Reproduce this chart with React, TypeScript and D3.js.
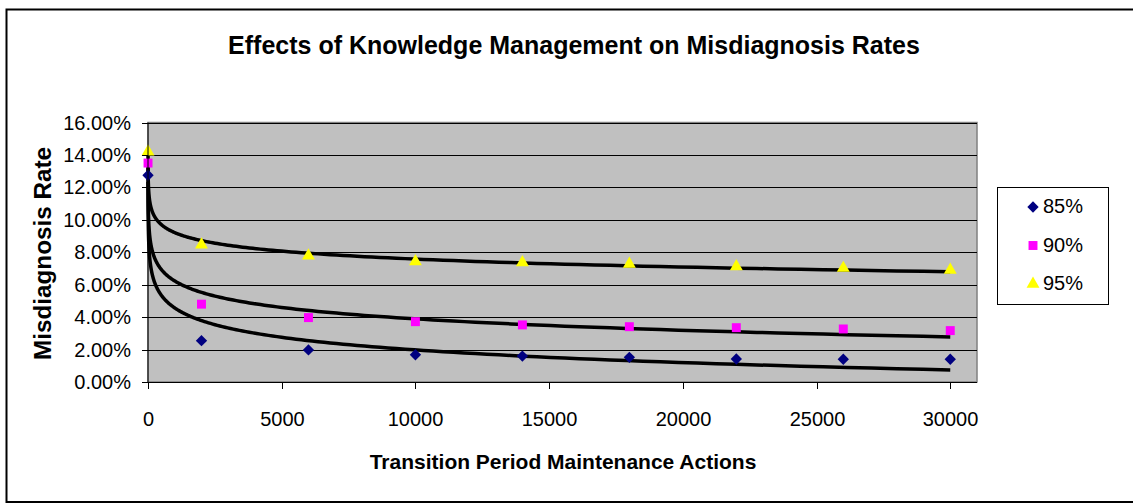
import React from 'react'
import * as d3 from 'd3'

// maintenance actions (first point sits at the origin of the axis)
const actions = [1, 2000, 6000, 10000, 14000, 18000, 22000, 26000, 30000]
const rate85 = [0.1275, 0.0255, 0.0198, 0.0168, 0.0160, 0.0152, 0.0142, 0.0140, 0.0140]
const rate90 = [0.1350, 0.0480, 0.0397, 0.0372, 0.0352, 0.0341, 0.0335, 0.0327, 0.0317]
const rate95 = [0.1420, 0.0846, 0.0778, 0.0743, 0.0737, 0.0728, 0.0712, 0.0702, 0.0691]
const seriesNames = ['85%', '90%', '95%']
const xTicks = [0, 5000, 10000, 15000, 20000, 25000, 30000]
const yTicks = [0, 0.02, 0.04, 0.06, 0.08, 0.1, 0.12, 0.14, 0.16]

const font = '"Liberation Sans", Arial, sans-serif'

// square turned 45deg, like excel's diamond marker
const diamond = (d3 as any).symbolDiamond2 || {
  draw(ctx: any, size: number) {
    const r = Math.sqrt(size) * 0.62
    ctx.moveTo(0, -r); ctx.lineTo(r, 0); ctx.lineTo(0, r); ctx.lineTo(-r, 0); ctx.closePath()
  },
}

// excel style logarithmic trendline: y = a + b ln(x)
const logFit = (xs: number[], ys: number[]) => {
  const lx = xs.map((v) => Math.log(v))
  const mx = d3.mean(lx)!
  const my = d3.mean(ys)!
  const sxy = d3.sum(lx, (v, i) => (v - mx) * (ys[i] - my))
  const sxx = d3.sum(lx, (v) => (v - mx) * (v - mx))
  const b = sxy / sxx
  const a = my - b * mx
  return (x: number) => a + b * Math.log(x)
}

const App = () => {
  const margin = { left: 148, right: 977, top: 122.5, bottom: 382 }
  const x = d3.scaleLinear().domain([0, 31000]).range([margin.left, margin.right])
  const y = d3.scaleLinear().domain([0, 0.16]).range([margin.bottom, margin.top])

  const series = [
    { name: seriesNames[0], values: rate85, color: '#000080', shape: diamond, size: 82 },
    { name: seriesNames[1], values: rate90, color: '#FF00FF', shape: d3.symbolSquare, size: 80 },
    { name: seriesNames[2], values: rate95, color: '#FFFF00', shape: d3.symbolTriangle, size: 72 },
  ]

  // sample the fitted curve on a log-spaced grid so the steep start stays smooth
  const samples = d3.range(0, 300).map((i) => Math.exp((i / 299) * Math.log(30000)))

  return (
    <svg width={1133} height={504} style={{ position: 'absolute', left: 0, top: 0, background: '#fff' }}>
      <rect x={6.5} y={9.5} width={1130} height={492.5} fill="#fff" stroke="#000" strokeWidth={2} />
      <text x={574} y={54} textAnchor="middle" fontFamily={font} fontWeight="bold" fontSize={25}>
        Effects of Knowledge Management on Misdiagnosis Rates
      </text>

      <rect x={margin.left} y={margin.top} width={margin.right - margin.left} height={margin.bottom - margin.top}
        fill="#C0C0C0" stroke="#808080" strokeWidth={1.5} />
      {yTicks.slice(1).map((t) => (
        <line key={t} x1={margin.left} x2={margin.right} y1={Math.round(y(t)) + 0.5} y2={Math.round(y(t)) + 0.5}
          stroke="#000" strokeWidth={1} />
      ))}

      <g>
        {series.map((s) => {
          const f = logFit(actions, s.values)
          const path = d3.line<number>().x((d) => x(d)).y((d) => y(f(d)))(samples)
          return <path key={s.name} d={path || ''} fill="none" stroke="#000" strokeWidth={3.5} strokeLinejoin="round" />
        })}
      </g>

      {series.map((s) => (
        <g key={s.name}>
          {s.values.map((v, i) => (
            <path key={i} d={d3.symbol(s.shape, s.size)() || ''} transform={`translate(${x(actions[i])},${y(v)})`}
              fill={s.color} />
          ))}
        </g>
      ))}

      <line x1={margin.left} x2={margin.left} y1={margin.top} y2={margin.bottom} stroke="#000" />
      <line x1={margin.left} x2={margin.right} y1={margin.bottom + 0.5} y2={margin.bottom + 0.5} stroke="#000" />
      {yTicks.map((t) => (
        <g key={t} transform={`translate(0,${Math.round(y(t)) + 0.5})`}>
          <line x1={142} x2={margin.left} stroke="#000" />
          <text x={131} y={6.5} textAnchor="end" fontFamily={font} fontSize={20}>{d3.format('.2%')(t)}</text>
        </g>
      ))}
      {xTicks.map((t) => (
        <g key={t} transform={`translate(${Math.round(x(t)) + 0.5},0)`}>
          <line y1={margin.bottom} y2={margin.bottom + 7} stroke="#000" />
          <text y={426} textAnchor="middle" fontFamily={font} fontSize={20}>{t}</text>
        </g>
      ))}

      <text x={563} y={469} textAnchor="middle" fontFamily={font} fontWeight="bold" fontSize={21}>
        Transition Period Maintenance Actions
      </text>
      <text transform="translate(51,253.5) rotate(-90)" textAnchor="middle" fontFamily={font} fontWeight="bold"
        fontSize={23} textLength={213} lengthAdjust="spacingAndGlyphs">
        Misdiagnosis Rate
      </text>

      <rect x={997.5} y={187.5} width={111} height={117} fill="#fff" stroke="#000" strokeWidth={1} />
      {series.map((s, i) => (
        <g key={s.name} transform={`translate(0,${213 + i * 38.5})`}>
          <path d={d3.symbol(s.shape, s.size)() || ''} transform="translate(1033,-6)" fill={s.color} />
          <text x={1043} y={0} fontFamily={font} fontSize={20}>{s.name}</text>
        </g>
      ))}
    </svg>
  )
}

export default App
